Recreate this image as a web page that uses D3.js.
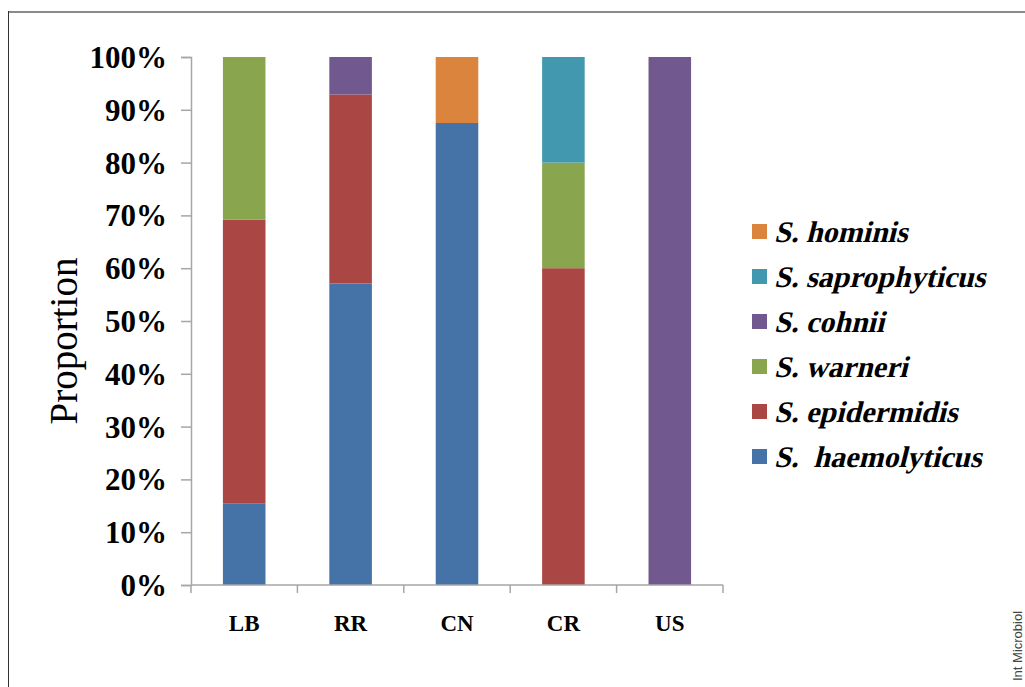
<!DOCTYPE html>
<html>
<head>
<meta charset="utf-8">
<script src="https://cdn.jsdelivr.net/npm/d3@7"></script>
<style>
  html, body { margin: 0; padding: 0; background: #fff; }
  svg { display: block; }
</style>
</head>
<body>
<svg id="chart" width="1025" height="687"></svg>
<script>
// Sampling sites along the x axis
const categories = ["LB", "RR", "CN", "CR", "US"];

// Species, stacked bottom to top, with their proportions (%) at each site
const species = ["S.  haemolyticus", "S. epidermidis", "S. warneri", "S. cohnii", "S. saprophyticus", "S. hominis"];
const haemolyticus = [15.4, 57.1, 87.5, 0, 0];
const epidermidis  = [53.8, 35.8, 0, 60, 0];
const warneri      = [30.8, 0, 0, 20, 0];
const cohnii       = [0, 7.1, 0, 0, 100];
const saprophyticus= [0, 0, 0, 20, 0];
const hominis      = [0, 0, 12.5, 0, 0];
const seriesValues = [haemolyticus, epidermidis, warneri, cohnii, saprophyticus, hominis];
const colors = ["#4572a7", "#aa4643", "#89a54e", "#71588f", "#4198af", "#db843d"];

const yTicks = [0, 10, 20, 30, 40, 50, 60, 70, 80, 90, 100];

const serif = "'Liberation Serif', 'Times New Roman', serif";
const svg = d3.select("#chart");

// Frame lines on the top and left edges
svg.append("line").attr("x1", 8).attr("x2", 1025).attr("y1", 12).attr("y2", 12)
  .attr("stroke", "#8a8a8a").attr("stroke-width", 2);
svg.append("line").attr("x1", 8.5).attr("x2", 8.5).attr("y1", 11).attr("y2", 687)
  .attr("stroke", "#333").attr("stroke-width", 1);

const plot = { left: 191, right: 723, top: 57, bottom: 585 };

const x = d3.scaleBand().domain(categories).range([plot.left, plot.right])
  .paddingInner(0.6).paddingOuter(0.3);
const xTickScale = d3.scaleBand().domain(categories).range([plot.left, plot.right]);
const y = d3.scaleLinear().domain([0, 100]).range([plot.bottom, plot.top]);

// Stacked layout
const rows = categories.map((c, i) => {
  const r = { cat: c };
  species.forEach((s, k) => { r[s] = seriesValues[k][i]; });
  return r;
});
const stacked = d3.stack().keys(species)(rows);

svg.append("g").selectAll("g").data(stacked).join("g")
  .attr("fill", (d, i) => colors[i])
  .selectAll("rect").data(d => d.filter(p => p[1] - p[0] > 0)).join("rect")
  .attr("x", d => x(d.data.cat))
  .attr("width", x.bandwidth())
  .attr("y", d => y(d[1]))
  .attr("height", d => y(d[0]) - y(d[1]));

// Y axis
const yAxis = svg.append("g").attr("transform", `translate(${plot.left},0)`)
  .call(d3.axisLeft(y).tickValues(yTicks).tickFormat(d => d + "%").tickSize(10).tickPadding(14));
yAxis.select(".domain").attr("stroke", "#a6a6a6").attr("stroke-width", 1.5);
yAxis.selectAll(".tick line").attr("stroke", "#a6a6a6").attr("stroke-width", 1.5);
yAxis.selectAll(".tick text")
  .attr("font-family", serif)
  .attr("font-weight", "bold").attr("font-size", 31).attr("fill", "#000")
  .attr("dy", "0.34em");

// X axis: category boundaries carry the tick marks
const xAxis = svg.append("g").attr("transform", `translate(0,${plot.bottom})`);
xAxis.append("line").attr("x1", plot.left).attr("x2", plot.right)
  .attr("stroke", "#a6a6a6").attr("stroke-width", 1.5);
const bounds = categories.map(c => xTickScale(c)).concat([plot.right]);
xAxis.selectAll("line.tk").data(bounds).join("line").attr("class", "tk")
  .attr("x1", d => d).attr("x2", d => d).attr("y1", 0).attr("y2", 8)
  .attr("stroke", "#a6a6a6").attr("stroke-width", 1.5);
xAxis.selectAll("text").data(categories).join("text")
  .attr("x", d => xTickScale(d) + xTickScale.bandwidth() / 2)
  .attr("y", 46)
  .attr("text-anchor", "middle")
  .attr("font-family", serif)
  .attr("font-weight", "bold").attr("font-size", 23).attr("fill", "#000")
  .text(d => d);

// Y axis title
svg.append("text")
  .attr("transform", "translate(77,341) rotate(-90)")
  .attr("text-anchor", "middle")
  .attr("font-family", serif)
  .attr("font-size", 39).attr("fill", "#000")
  .text("Proportion");

// Legend, listed top-down in reverse stacking order
const legendOrder = species.map((s, i) => ({ name: s, color: colors[i] })).reverse();
const legend = svg.append("g").attr("transform", "translate(752,224)");
const item = legend.selectAll("g").data(legendOrder).join("g")
  .attr("transform", (d, i) => `translate(0,${i * 45})`);
item.append("rect").attr("width", 15).attr("height", 15).attr("fill", d => d.color);
// slanted bold serif for the species names
item.append("text")
  .attr("transform", "translate(22,18) skewX(-14)")
  .attr("font-family", serif)
  .attr("font-weight", "bold")
  .attr("font-size", 30).attr("fill", "#000")
  .style("white-space", "pre")
  .text(d => d.name);

// Journal tag on the right edge
svg.append("text")
  .attr("transform", "translate(1022,681) rotate(-90)")
  .attr("font-family", "'Liberation Sans', Arial, sans-serif")
  .attr("font-size", 13).attr("fill", "#444")
  .text("Int Microbiol");
</script>
</body>
</html>
